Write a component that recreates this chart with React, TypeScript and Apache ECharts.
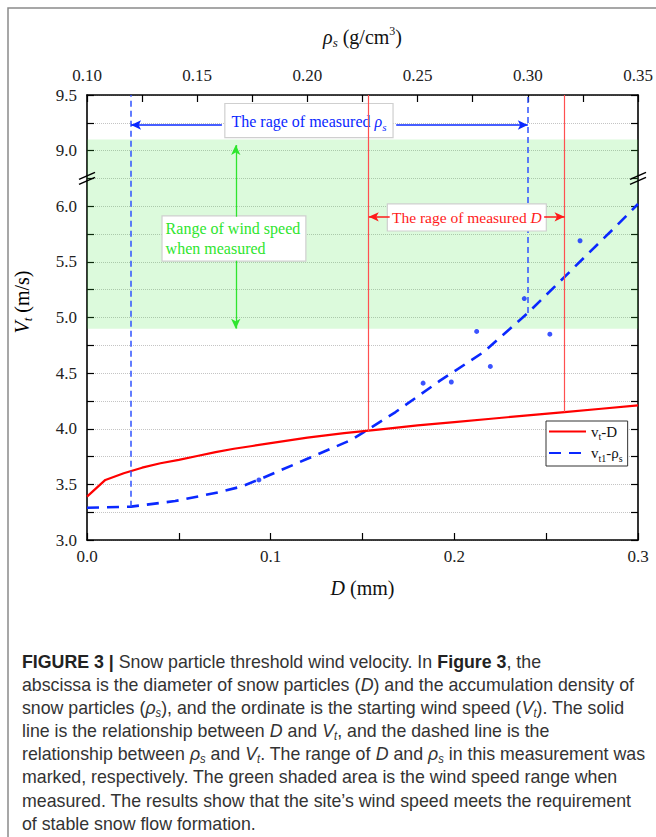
import React, { useEffect, useRef } from 'react';
import * as echarts from 'echarts';

// ---------- data ----------
const dValues = [0, 0.01, 0.02, 0.03, 0.04, 0.05, 0.06, 0.07, 0.08, 0.09, 0.1, 0.12, 0.14, 0.16, 0.18, 0.2, 0.22, 0.24, 0.26, 0.28, 0.3];
const vtD = [3.39, 3.54, 3.6, 3.65, 3.69, 3.72, 3.755, 3.79, 3.82, 3.845, 3.87, 3.92, 3.96, 3.995, 4.03, 4.06, 4.09, 4.12, 4.15, 4.18, 4.21];

const rhoValues = [0.1, 0.12, 0.14, 0.16, 0.17, 0.18, 0.2, 0.22, 0.24, 0.26, 0.28, 0.3, 0.32, 0.34, 0.35];
const vt1Rho = [3.29, 3.3, 3.35, 3.43, 3.48, 3.56, 3.73, 3.9, 4.15, 4.43, 4.69, 5.04, 5.43, 5.82, 6.02];

const dotRho = [0.178, 0.2525, 0.2653, 0.2768, 0.283, 0.2984, 0.31, 0.3237];
const dotVt = [3.54, 4.41, 4.42, 4.875, 4.56, 5.17, 4.85, 5.69];

const measuredD = [0.1534, 0.26];
const measuredDStartVt = [3.98, 4.15];
const measuredRho = [0.12, 0.3];
const measuredRhoStartVt = [3.3, 5.04];
const windRange = [4.9, 9.1];

const dTicks = { min: 0, max: 0.3, step: 0.1 };
const rhoTicks = { min: 0.1, max: 0.35, step: 0.05 };
const vLower = { min: 3.0, max: 6.0 };
const vUpper = { min: 9.0, max: 9.5 };
const vStep = 0.5;

const captionLines = [
  '{b|FIGURE 3 |} Snow particle threshold wind velocity. In {b|Figure 3}, the',
  'abscissa is the diameter of snow particles ({i|D}) and the accumulation density of',
  'snow particles ({i|ρ}{s|s}), and the ordinate is the starting wind speed ({i|V}{s|t}). The solid',
  'line is the relationship between {i|D} and {i|V}{s|t}, and the dashed line is the',
  'relationship between {i|ρ}{s|s} and {i|V}{s|t}. The range of {i|D} and {i|ρ}{s|s} in this measurement was',
  'marked, respectively. The green shaded area is the wind speed range when',
  'measured. The results show that the site\u2019s wind speed meets the requirement',
  'of stable snow flow formation.',
];

// ---------- helpers ----------
const GAP = 0.5; // virtual size of the axis break
const SHIFT = vUpper.min - vLower.max - GAP;
const toAxis = (v: number) => (v <= vLower.max ? v : v - SHIFT);
const yLabel = (v: number) => {
  if (v <= vLower.max + 1e-6) return v.toFixed(1);
  if (v >= vLower.max + GAP - 1e-6) return (v + SHIFT).toFixed(1);
  return '';
};

const serif = '"Liberation Serif", "Times New Roman", serif';
const sans = '"Liberation Sans", Arial, sans-serif';
const BLUE = '#0a28ff';
const RED = '#ff1a1a';
const GREEN = '#2ee52e';

export default function App() {
  const ref = useRef<HTMLDivElement>(null);

  useEffect(() => {
    if (!ref.current) return;
    const chart = echarts.init(ref.current, undefined, { renderer: 'svg' });
    const yMax = toAxis(vUpper.max);

    const tickCommon = {
      axisLine: { show: true, onZero: false, lineStyle: { color: '#000', width: 1.6 } },
      axisTick: { show: true, inside: true, length: 7, lineStyle: { color: '#000', width: 1.2 } },
      minorTick: { show: true, splitNumber: 2, length: 7, lineStyle: { color: '#000', width: 1.2 } },
    };

    const subRich = {
      n: { fontFamily: serif, fontSize: 20, color: '#111', lineHeight: 24 },
      i: { fontFamily: serif, fontSize: 20, fontStyle: 'italic', color: '#111', lineHeight: 24 },
      s: { fontFamily: serif, fontSize: 13, fontStyle: 'italic', color: '#111', verticalAlign: 'bottom', lineHeight: 14 },
      p: { fontFamily: serif, fontSize: 12, color: '#111', verticalAlign: 'top', lineHeight: 12 },
    };

    const option: any = {
      animation: false,
      backgroundColor: '#ffffff',
      grid: { left: 87, right: 18, top: 95, bottom: 297 },
      legend: {
        data: ['vt-D', 'vt1-ρs'],
        orient: 'vertical',
        left: 546,
        top: 421,
        padding: [3, 5, 3, 2],
        itemGap: 4,
        itemWidth: 37,
        itemHeight: 12,
        borderColor: '#333',
        borderWidth: 1,
        backgroundColor: '#fff',
        itemStyle: { color: 'rgba(0,0,0,0)', borderWidth: 0, opacity: 0 },
        formatter: (name: string) => (name === 'vt-D' ? '{n|v}{s|t}{n|-D}' : '{n|v}{s|t1}{n|-ρ}{s|s}'),
        textStyle: {
          rich: {
            n: { fontFamily: serif, fontSize: 15, color: '#111', lineHeight: 20 },
            s: { fontFamily: serif, fontSize: 10, color: '#111', verticalAlign: 'bottom', lineHeight: 10 },
          },
        },
      },
      xAxis: [
        {
          type: 'value',
          position: 'bottom',
          min: dTicks.min,
          max: dTicks.max,
          interval: dTicks.step,
          ...tickCommon,
          splitLine: { show: false },
          axisLabel: { formatter: (v: number) => v.toFixed(1), fontFamily: serif, fontSize: 17, color: '#222', margin: 8 },
          name: '{i|D}{n| (mm)}',
          nameLocation: 'middle',
          nameGap: 36,
          nameTextStyle: { rich: subRich },
        },
        {
          type: 'value',
          position: 'top',
          min: rhoTicks.min,
          max: rhoTicks.max,
          interval: rhoTicks.step,
          ...tickCommon,
          splitLine: { show: false },
          axisLabel: { formatter: (v: number) => v.toFixed(2), fontFamily: serif, fontSize: 17, color: '#222', margin: 11 },
          name: '{i|ρ}{s|s}{n| (g/cm}{p|3}{n|)}',
          nameLocation: 'middle',
          nameGap: 46,
          nameTextStyle: { rich: subRich },
        },
      ],
      yAxis: [
        {
          type: 'value',
          position: 'left',
          min: vLower.min,
          max: yMax,
          interval: vStep,
          ...tickCommon,
          axisLabel: { formatter: yLabel, fontFamily: serif, fontSize: 17, color: '#222', margin: 10 },
          splitLine: { show: true, lineStyle: { color: '#c4c4c4', type: 'dotted', width: 1 } },
          minorSplitLine: { show: true, lineStyle: { color: '#c4c4c4', type: 'dotted', width: 1 } },
        },
        {
          type: 'value',
          position: 'right',
          min: vLower.min,
          max: yMax,
          interval: vStep,
          ...tickCommon,
          axisLabel: { show: false },
          splitLine: { show: false },
        },
      ],
      series: [
        {
          name: 'vt-D',
          type: 'line',
          xAxisIndex: 0,
          yAxisIndex: 0,
          data: dValues.map((d, i) => [d, vtD[i]]),
          symbol: 'none',
          showSymbol: false,
          color: '#ff0000',
          lineStyle: { color: '#ff0000', width: 2.2 },
          z: 4,
          markArea: {
            silent: true,
            z: 1,
            itemStyle: { color: 'rgba(60,230,60,0.18)' },
            data: [[{ yAxis: toAxis(windRange[0]) }, { yAxis: toAxis(windRange[1]) }]],
          },
          markLine: {
            silent: true,
            z: 7,
            symbol: ['none', 'none'],
            symbolSize: [7, 10],
            label: { show: false },
            emphasis: { disabled: true },
            data: [
              ...measuredD.map((d, i) => [
                { coord: [d, measuredDStartVt[i]], lineStyle: { color: '#ff5050', width: 1.2, type: 'solid' } },
                { coord: [d, yMax] },
              ]),
              [
                { coord: [measuredD[0], toAxis(5.905)], symbol: 'arrow', lineStyle: { color: RED, width: 1.5, type: 'solid' } },
                { coord: [0.1648, toAxis(5.905)], symbol: 'none' },
              ],
              [
                { coord: [0.2489, toAxis(5.905)], symbol: 'none', lineStyle: { color: RED, width: 1.5, type: 'solid' } },
                { coord: [measuredD[1], toAxis(5.905)], symbol: 'arrow' },
              ],
              [
                { coord: [0.081, toAxis(5.906)], symbol: 'none', lineStyle: { color: GREEN, width: 1.3, type: 'solid' } },
                { coord: [0.081, toAxis(9.05)], symbol: 'arrow' },
              ],
              [
                { coord: [0.081, toAxis(5.51)], symbol: 'none', lineStyle: { color: GREEN, width: 1.3, type: 'solid' } },
                { coord: [0.081, toAxis(windRange[0])], symbol: 'arrow' },
              ],
            ],
          },
          markPoint: {
            silent: true,
            z: 6,
            data: [
              {
                coord: [0.2068, toAxis(5.9)],
                symbol: 'rect',
                symbolSize: 1,
                itemStyle: { color: 'rgba(0,0,0,0)' },
                label: {
                  show: true,
                  position: 'inside',
                  formatter: '{n|The rage of measured }{i|D}',
                  backgroundColor: '#fff',
                  borderColor: '#cfcfcf',
                  borderWidth: 1.2,
                  padding: [4, 4, 3, 4],
                  rich: {
                    n: { fontFamily: serif, fontSize: 15.5, color: RED, lineHeight: 19 },
                    i: { fontFamily: serif, fontSize: 15.5, fontStyle: 'italic', color: RED, lineHeight: 19 },
                  },
                },
              },
              {
                coord: [0.0409, toAxis(5.71)],
                symbol: 'rect',
                symbolSize: 1,
                itemStyle: { color: 'rgba(0,0,0,0)' },
                label: {
                  show: true,
                  position: 'right',
                  distance: 0,
                  formatter: 'Range of wind speed\nwhen measured',
                  fontFamily: serif,
                  fontSize: 16,
                  lineHeight: 20,
                  color: GREEN,
                  align: 'left',
                  backgroundColor: '#fff',
                  borderColor: '#cfcfcf',
                  borderWidth: 1.2,
                  padding: [2, 5, 2, 3],
                },
              },
            ],
          },
        },
        {
          name: 'vt1-ρs',
          type: 'line',
          xAxisIndex: 1,
          yAxisIndex: 0,
          data: rhoValues.map((r, i) => [r, vt1Rho[i]]),
          symbol: 'none',
          showSymbol: false,
          color: BLUE,
          lineStyle: { color: BLUE, width: 2.6, type: [12, 8] },
          z: 3,
          markLine: {
            silent: true,
            z: 5,
            symbol: ['none', 'none'],
            symbolSize: [7, 10],
            label: { show: false },
            emphasis: { disabled: true },
            data: [
              ...measuredRho.map((r, i) => [
                { coord: [r, measuredRhoStartVt[i]], lineStyle: { color: '#2f52ff', width: 1.5, type: [6, 4] } },
                { coord: [r, yMax] },
              ]),
              [
                { coord: [measuredRho[0], toAxis(9.23)], symbol: 'arrow', lineStyle: { color: BLUE, width: 1.5, type: 'solid' } },
                { coord: [0.1612, toAxis(9.23)], symbol: 'none' },
              ],
              [
                { coord: [0.2403, toAxis(9.23)], symbol: 'none', lineStyle: { color: BLUE, width: 1.5, type: 'solid' } },
                { coord: [measuredRho[1], toAxis(9.23)], symbol: 'arrow' },
              ],
            ],
          },
          markPoint: {
            silent: true,
            z: 5,
            data: [
              {
                coord: [0.2007, toAxis(9.27)],
                symbol: 'rect',
                symbolSize: 1,
                itemStyle: { color: 'rgba(0,0,0,0)' },
                label: {
                  show: true,
                  position: 'inside',
                  formatter: '{n|The rage of measured }{i|ρ}{s|s}',
                  backgroundColor: '#fff',
                  borderColor: '#cfcfcf',
                  borderWidth: 1.2,
                  padding: [6, 6, 5, 6],
                  rich: {
                    n: { fontFamily: serif, fontSize: 16, color: BLUE, lineHeight: 22 },
                    i: { fontFamily: serif, fontSize: 16, fontStyle: 'italic', color: BLUE, lineHeight: 22 },
                    s: { fontFamily: serif, fontSize: 11, fontStyle: 'italic', color: BLUE, lineHeight: 11, verticalAlign: 'bottom' },
                  },
                },
              },
            ],
          },
        },
        {
          name: 'points',
          type: 'scatter',
          xAxisIndex: 1,
          yAxisIndex: 0,
          data: dotRho.map((r, i) => [r, dotVt[i]]),
          symbol: 'circle',
          symbolSize: 5,
          itemStyle: { color: BLUE },
          z: 4,
        },
      ],
    };

    chart.setOption(option);

    // axis-break marks and static graphics
    const yb = chart.convertToPixel({ yAxisIndex: 0 }, (vLower.max + GAP / 2)) as number;
    const xl = chart.convertToPixel({ xAxisIndex: 0 }, dTicks.min) as number;
    const xr = chart.convertToPixel({ xAxisIndex: 0 }, dTicks.max) as number;
    const breakMarks = (x: number) => [
      { type: 'line', shape: { x1: x - 8, y1: yb + 6, x2: x + 8, y2: yb - 1 }, style: { stroke: '#000', lineWidth: 1.5 }, z: 100 },
      { type: 'line', shape: { x1: x - 8, y1: yb + 1, x2: x + 8, y2: yb - 6 }, style: { stroke: '#000', lineWidth: 1.5 }, z: 100 },
    ];

    const captionRich = {
      b: { fontFamily: sans, fontSize: 19, fontWeight: 'bold', fill: '#222', lineHeight: 22 },
      i: { fontFamily: sans, fontSize: 19, fontStyle: 'italic', fill: '#333', lineHeight: 22 },
      s: { fontFamily: sans, fontSize: 12, fontStyle: 'italic', fill: '#333', lineHeight: 13, verticalAlign: 'bottom' },
    };

    chart.setOption({
      graphic: [
        {
          type: 'rect',
          shape: { x: 8, y: 8, width: 700, height: 900 },
          style: { fill: 'none', stroke: '#8a8a8a', lineWidth: 1.5 },
          silent: true,
        },
        ...breakMarks(xl),
        ...breakMarks(xr),
        {
          type: 'text',
          x: 22,
          y: 302,
          rotation: Math.PI / 2,
          style: {
            text: '{i|V}{s|t}{n| (m/s)}',
            textAlign: 'center',
            textVerticalAlign: 'middle',
            verticalAlign: 'middle',
            rich: subRich,
          },
        },
        ...captionLines.map((t, i) => ({
          type: 'text',
          x: 22,
          y: 661 + i * 23.15,
          scaleX: 0.935,
          style: {
            text: t,
            fontFamily: sans,
            fontSize: 19,
            fill: '#333',
            lineHeight: 22,
            textAlign: 'left',
            textVerticalAlign: 'middle',
            verticalAlign: 'middle',
            rich: captionRich,
          },
        })),
      ],
    });

    return () => chart.dispose();
  }, []);

  return <div ref={ref} style={{ position: 'absolute', left: 0, top: 0, width: 656, height: 837 }} />;
}
